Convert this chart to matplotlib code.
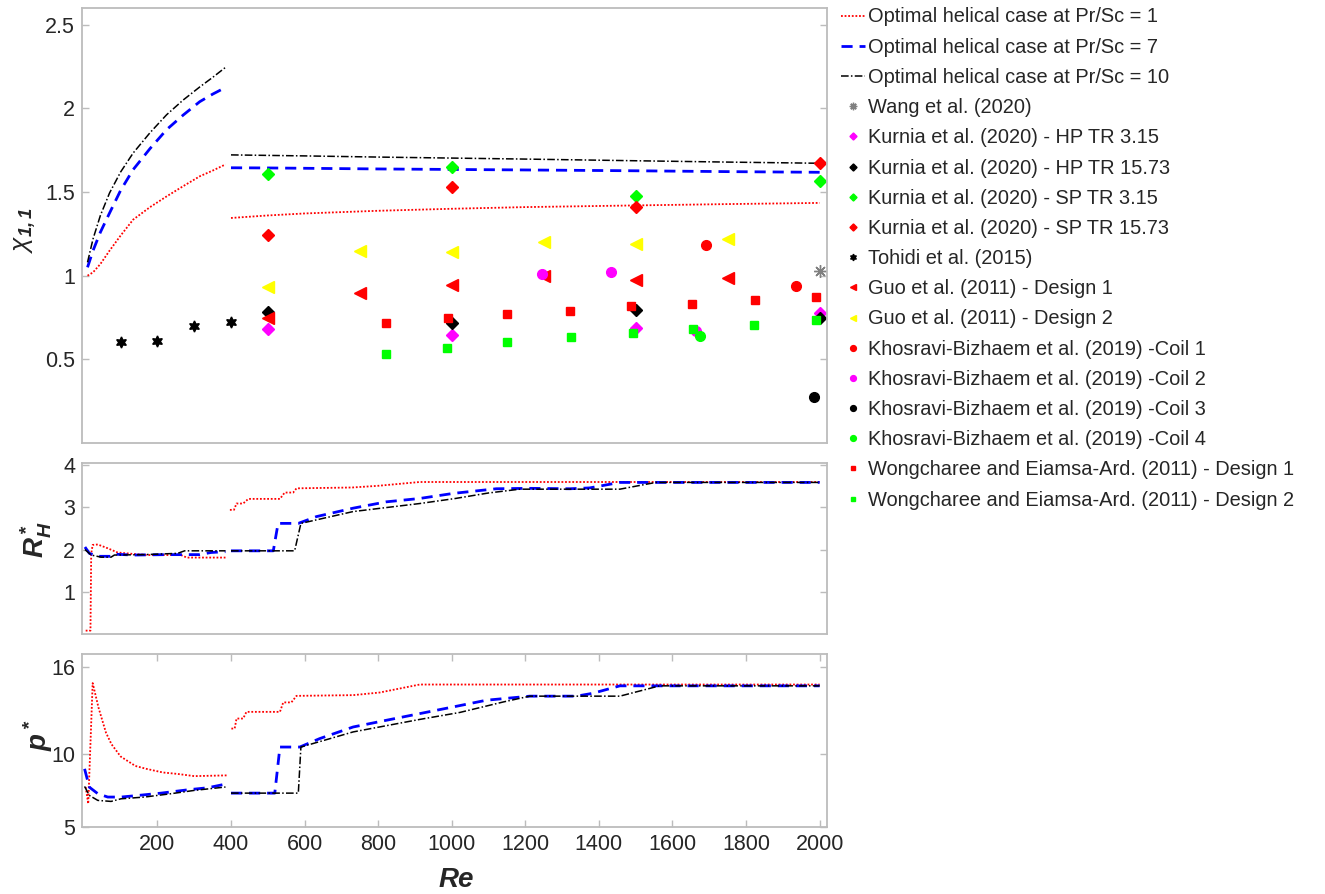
import matplotlib
matplotlib.use("Agg")
import matplotlib.pyplot as plt

plt.rcParams['font.family'] = ['Liberation Sans', 'DejaVu Sans']
plt.rcParams['mathtext.fontset'] = 'custom'
plt.rcParams['mathtext.rm'] = 'Liberation Sans'
plt.rcParams['mathtext.it'] = 'Liberation Sans:italic'
plt.rcParams['mathtext.bf'] = 'Liberation Sans:bold:italic'

# ---------------- data: chi_1,1 (top panel) ----------------
re_low = [10, 25, 45, 70, 100, 134, 180, 225, 270, 315, 350, 385]
chi_pr1_low = [1.0, 1.02, 1.07, 1.15, 1.24, 1.335, 1.41, 1.474, 1.535, 1.594, 1.628, 1.665]
chi_pr7_low = [1.05, 1.15, 1.26, 1.375, 1.51, 1.634, 1.76, 1.873, 1.96, 2.04, 2.085, 2.125]
chi_pr10_low = [1.08, 1.22, 1.36, 1.495, 1.62, 1.733, 1.855, 1.962, 2.05, 2.128, 2.185, 2.245]

re_high = [400, 500, 600, 800, 1000, 1200, 1500, 1750, 2000]
chi_pr1_high = [1.345, 1.36, 1.372, 1.388, 1.40, 1.41, 1.42, 1.428, 1.435]
chi_pr7_high = [1.645, 1.644, 1.642, 1.638, 1.635, 1.632, 1.627, 1.622, 1.618]
chi_pr10_high = [1.722, 1.719, 1.716, 1.709, 1.703, 1.697, 1.687, 1.679, 1.672]

# ---------------- data: R*_H (middle panel) ----------------
rh_pr1_low_re = [5, 18, 20, 24, 38, 65, 92, 129, 174, 264, 280, 385]
rh_pr1_low = [0.08, 0.08, 1.9, 2.11, 2.12, 2.03, 1.93, 1.90, 1.87, 1.87, 1.81, 1.81]
rh_pr1_high_re = [397, 408, 415, 433, 447, 533, 546, 569, 578, 730, 800, 913, 2000]
rh_pr1_high = [2.94, 2.94, 3.09, 3.09, 3.2, 3.2, 3.35, 3.35, 3.45, 3.47, 3.51, 3.60, 3.60]

rh_pr7_low_re = [3, 15, 38, 74, 83, 134, 225, 315, 345, 385]
rh_pr7_low = [2.06, 1.91, 1.84, 1.84, 1.89, 1.87, 1.88, 1.88, 1.93, 1.95]
rh_pr7_high_re = [400, 515, 528, 583, 632, 732, 822, 913, 1004, 1121, 1212, 1321, 1375, 1457, 2000]
rh_pr7_high = [1.97, 1.97, 2.62, 2.62, 2.78, 2.98, 3.13, 3.21, 3.33, 3.44, 3.45, 3.44, 3.46, 3.59, 3.59]

rh_pr10_low_re = [3, 20, 47, 74, 83, 165, 255, 274, 385]
rh_pr10_low = [2.0, 1.87, 1.82, 1.82, 1.87, 1.88, 1.91, 1.97, 1.97]
rh_pr10_high_re = [400, 573, 590, 732, 913, 1010, 1100, 1185, 1212, 1457, 1555, 2000]
rh_pr10_high = [1.97, 1.97, 2.62, 2.90, 3.09, 3.21, 3.34, 3.43, 3.43, 3.43, 3.59, 3.59]

# ---------------- data: p* (bottom panel) ----------------
p_pr1_low_re = [5, 12, 24, 40, 60, 75, 100, 140, 170, 215, 255, 300, 388]
p_pr1_low = [7.75, 6.6, 14.9, 13.2, 11.5, 10.7, 9.85, 9.2, 9.0, 8.75, 8.65, 8.5, 8.55]
p_pr1_high_re = [401, 410, 415, 433, 442, 533, 542, 564, 578, 732, 804, 913, 2000]
p_pr1_high = [11.77, 11.77, 12.46, 12.46, 12.92, 12.92, 13.57, 13.57, 14.02, 14.07, 14.25, 14.8, 14.8]

p_pr7_low_re = [2, 15, 38, 65, 101, 147, 210, 283, 337, 385]
p_pr7_low = [9.0, 7.74, 7.29, 7.06, 7.06, 7.17, 7.33, 7.56, 7.7, 7.95]
p_pr7_high_re = [400, 519, 533, 587, 641, 732, 822, 913, 1004, 1094, 1212, 1339, 1384, 1457, 2000]
p_pr7_high = [7.33, 7.33, 10.5, 10.5, 11.08, 11.88, 12.34, 12.8, 13.26, 13.72, 14.0, 14.0, 14.2, 14.71, 14.71]

p_pr10_low_re = [2, 15, 38, 74, 101, 165, 237, 301, 385]
p_pr10_low = [7.79, 7.17, 6.83, 6.76, 6.94, 7.06, 7.29, 7.52, 7.75]
p_pr10_high_re = [400, 583, 590, 732, 913, 1022, 1140, 1212, 1457, 1565, 2000]
p_pr10_high = [7.33, 7.33, 10.5, 11.54, 12.4, 12.88, 13.6, 14.0, 14.0, 14.71, 14.71]

# ---------------- literature data (top panel) ----------------
wang_re = [2000]
wang_chi = [1.03]
kurnia_re = [500, 1000, 1500, 2000]
kurnia_hp315 = [0.682, 0.648, 0.688, 0.778]
kurnia_hp1573 = [0.781, 0.718, 0.792, 0.748]
kurnia_sp315 = [1.61, 1.648, 1.479, 1.564]
kurnia_sp1573 = [1.245, 1.528, 1.411, 1.674]
tohidi_re = [100, 200, 300, 400]
tohidi_chi = [0.605, 0.61, 0.70, 0.725]
guo_re = [500, 750, 1000, 1250, 1500, 1750]
guo_d1 = [0.748, 0.897, 0.947, 0.997, 0.977, 0.987]
guo_d2 = [0.933, 1.146, 1.14, 1.2, 1.192, 1.222]
kh1_re = [1690, 1935]
kh1_chi = [1.186, 0.937]
kh2_re = [1245, 1432, 1665]
kh2_chi = [1.011, 1.02, 0.668]
kh3_re = [1985]
kh3_chi = [0.274]
kh4_re = [1675]
kh4_chi = [0.638]
wong_d1_re = [822, 990, 1151, 1322, 1488, 1653, 1825, 1991]
wong_d1 = [0.718, 0.748, 0.771, 0.79, 0.82, 0.833, 0.857, 0.873]
wong_d2_re = [822, 987, 1151, 1324, 1494, 1655, 1822, 1991]
wong_d2 = [0.533, 0.569, 0.604, 0.634, 0.658, 0.682, 0.708, 0.738]

x_ticks = [200, 400, 600, 800, 1000, 1200, 1400, 1600, 1800, 2000]

# ---------------- styling ----------------
FRAME = '#bcbcbc'
TXT = '#262626'
TICK_FS = 15.5
s1 = dict(color='red', ls=(0, (1, 1)), lw=1.3)
s7 = dict(color='blue', ls=(0, (4, 2.5)), lw=2.0)
s10 = dict(color='black', ls=(0, (5, 1.5, 1, 1.5)), lw=1.1)

W, H = 1325, 894
fig = plt.figure(figsize=(W / 100, H / 100), dpi=100)


def add_ax(l, t, r, b):
    return fig.add_axes([l / W, 1 - b / H, (r - l) / W, (b - t) / H])


ax1 = add_ax(82, 8, 827, 443)
ax2 = add_ax(82, 463, 827, 634)
ax3 = add_ax(82, 654, 827, 827)

for ax in (ax1, ax2, ax3):
    for sp in ax.spines.values():
        sp.set_color(FRAME)
        sp.set_linewidth(1.3)
    ax.tick_params(direction='in', length=5, width=1, color=FRAME,
                   labelsize=TICK_FS, labelcolor=TXT, right=True, top=True,
                   pad=5)
    ax.set_xlim(-5, 2020)

# top panel
ax1.plot(re_low, chi_pr1_low, **s1)
ax1.plot(re_high, chi_pr1_high, **s1)
ax1.plot(re_low, chi_pr7_low, **s7)
ax1.plot(re_high, chi_pr7_high, **s7)
ax1.plot(re_low, chi_pr10_low, **s10)
ax1.plot(re_high, chi_pr10_high, **s10)

mk = dict(ls='none')
ax1.plot(wang_re, wang_chi, marker=(8, 2, 0), color='#808080', ms=9, mew=1, **mk)
ax1.plot(kurnia_re, kurnia_hp315, marker='D', color='magenta', ms=6, **mk)
ax1.plot(kurnia_re, kurnia_hp1573, marker='D', color='black', ms=6, **mk)
ax1.plot(kurnia_re, kurnia_sp315, marker='D', color='lime', ms=6, **mk)
ax1.plot(kurnia_re, kurnia_sp1573, marker='D', color='red', ms=6, **mk)
ax1.plot(tohidi_re, tohidi_chi, marker=(6, 1, 0), color='black', ms=8, **mk)
ax1.plot(guo_re, guo_d1, marker='<', color='red', ms=8, **mk)
ax1.plot(guo_re, guo_d2, marker='<', color='yellow', ms=8, **mk)
ax1.plot(kh1_re, kh1_chi, marker='o', color='red', ms=7, **mk)
ax1.plot(kh2_re, kh2_chi, marker='o', color='magenta', ms=7, **mk)
ax1.plot(kh3_re, kh3_chi, marker='o', color='black', ms=7, **mk)
ax1.plot(kh4_re, kh4_chi, marker='o', color='lime', ms=7, **mk)
ax1.plot(wong_d1_re, wong_d1, marker='s', color='red', ms=5.5, **mk)
ax1.plot(wong_d2_re, wong_d2, marker='s', color='lime', ms=5.5, **mk)

ax1.set_ylim(0, 2.6)
ax1.set_yticks([0.5, 1, 1.5, 2, 2.5])
ax1.set_yticklabels(['0.5', '1', '1.5', '2', '2.5'])
ax1.set_xticks([])

# middle panel
ax2.plot(rh_pr1_low_re, rh_pr1_low, **s1)
ax2.plot(rh_pr1_high_re, rh_pr1_high, **s1)
ax2.plot(rh_pr7_low_re, rh_pr7_low, **s7)
ax2.plot(rh_pr7_high_re, rh_pr7_high, **s7)
ax2.plot(rh_pr10_low_re, rh_pr10_low, **s10)
ax2.plot(rh_pr10_high_re, rh_pr10_high, **s10)
ax2.set_ylim(0.0, 4.05)
ax2.set_yticks([1, 2, 3, 4])
ax2.set_xticks([])

# bottom panel
ax3.plot(p_pr1_low_re, p_pr1_low, **s1)
ax3.plot(p_pr1_high_re, p_pr1_high, **s1)
ax3.plot(p_pr7_low_re, p_pr7_low, **s7)
ax3.plot(p_pr7_high_re, p_pr7_high, **s7)
ax3.plot(p_pr10_low_re, p_pr10_low, **s10)
ax3.plot(p_pr10_high_re, p_pr10_high, **s10)
ax3.set_ylim(5, 16.9)
ax3.set_yticks([5, 10, 16])
ax3.set_xticks(x_ticks)
ax3.set_xticklabels([str(v) for v in x_ticks])

# axis labels
fig.text(25 / W, 1 - 230 / H, r'$\chi_{\mathbf{1,1}}$', rotation=90, ha='center',
         va='center', fontsize=19, color=TXT)
fig.text(36 / W, 1 - 540 / H, r'$\mathbf{R^*_H}$', rotation=90, ha='center',
         va='center', fontsize=20, color=TXT)
fig.text(38 / W, 1 - 735 / H, r'$\mathbf{p^*}$', rotation=90, ha='center',
         va='center', fontsize=20, color=TXT)
fig.text(456 / W, 1 - 880 / H, 'Re', ha='center', va='center', fontsize=20,
         fontweight='bold', fontstyle='italic', color=TXT)

# legend
labels = ['Optimal helical case at Pr/Sc = 1', 'Optimal helical case at Pr/Sc = 7',
          'Optimal helical case at Pr/Sc = 10', 'Wang et al. (2020)',
          'Kurnia et al. (2020) - HP TR 3.15', 'Kurnia et al. (2020) - HP TR 15.73',
          'Kurnia et al. (2020) - SP TR 3.15', 'Kurnia et al. (2020) - SP TR 15.73',
          'Tohidi et al. (2015)', 'Guo et al. (2011) - Design 1',
          'Guo et al. (2011) - Design 2', 'Khosravi-Bizhaem et al. (2019) -Coil 1',
          'Khosravi-Bizhaem et al. (2019) -Coil 2', 'Khosravi-Bizhaem et al. (2019) -Coil 3',
          'Khosravi-Bizhaem et al. (2019) -Coil 4',
          'Wongcharee and Eiamsa-Ard. (2011) - Design 1',
          'Wongcharee and Eiamsa-Ard. (2011) - Design 2']
handles = ax1.get_lines()
handles = [handles[0], handles[2], handles[4]] + list(handles[6:])
leg = fig.legend(handles, labels, loc='upper left', bbox_to_anchor=(841 / W, 1 - 7.5 / H),
                 frameon=False, fontsize=14.4, handlelength=1.2, handletextpad=0.15,
                 labelspacing=0.56, markerscale=0.6, borderaxespad=0, borderpad=0)
for t in leg.get_texts():
    t.set_color(TXT)

fig.savefig('out.png', dpi=100, facecolor='white')
